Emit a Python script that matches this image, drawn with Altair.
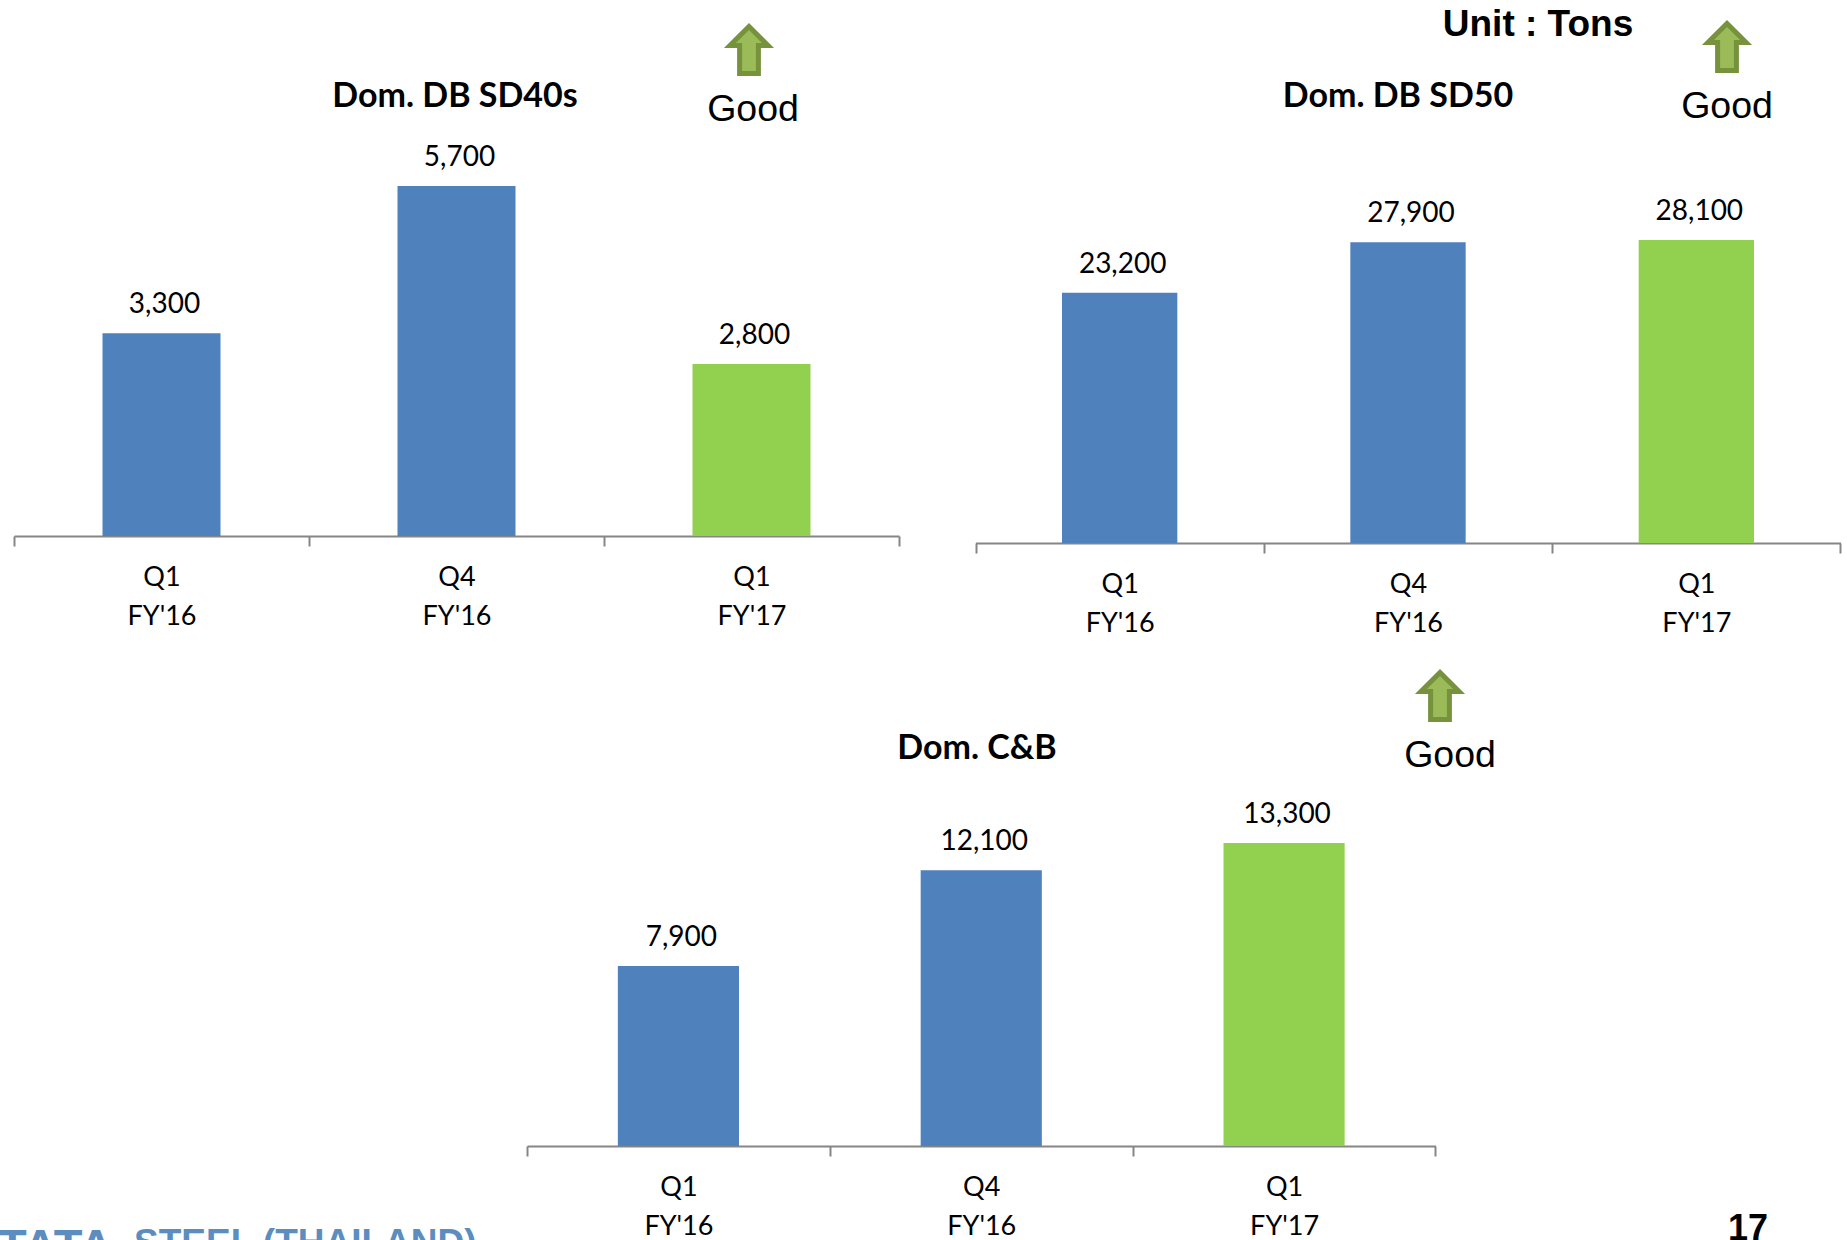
import altair as alt
import pandas as pd

QUARTERS = ["Q1|FY'16", "Q4|FY'16", "Q1|FY'17"]
BAR_COLORS = ["#4F81BD", "#4F81BD", "#92D050"]

SD40_VALUES = [3300, 5700, 2800]
SD50_VALUES = [23200, 27900, 28100]
CB_VALUES = [7900, 12100, 13300]

SANS = "Liberation Sans"
BODY = "Lato"

# Up arrow in symbol units, centred on the origin.
ARROW = "M0,-1 L0.81,-0.19 L0.4,-0.19 L0.4,1 L-0.4,1 L-0.4,-0.19 L-0.81,-0.19 Z"


def panel(values, x_range, y_range):
    table = pd.DataFrame({"quarter": QUARTERS, "tons": values, "color": BAR_COLORS})
    x = alt.X(
        "quarter:N",
        sort=QUARTERS,
        title=None,
        scale=alt.Scale(range=x_range, paddingInner=0, paddingOuter=0),
        axis=alt.Axis(
            orient="bottom",
            offset=y_range[0] - 1240,
            labelAngle=0,
            labelExpr="split(datum.label, '|')",
            labelFont=BODY,
            labelFontSize=27,
            labelColor="#000000",
            labelPadding=18,
            labelLineHeight=39,
            labelBaseline="top",
            domainColor="#868686",
            domainWidth=2,
            tickColor="#868686",
            tickWidth=2,
            tickSize=10,
            tickBand="extent",
            grid=False,
        ),
    )
    y = alt.Y(
        "tons:Q",
        axis=None,
        scale=alt.Scale(domain=[0, max(values)], range=y_range, nice=False),
    )
    bars = (
        alt.Chart(table)
        .mark_bar(width=alt.RelativeBandSize(band=0.4))
        .encode(x=x, y=y, color=alt.Color("color:N", scale=None))
    )
    labels = (
        alt.Chart(table)
        .mark_text(font=BODY, fontSize=28, color="#000000", dy=-20, dx=3, baseline="alphabetic")
        .encode(x=x, y=y, text=alt.Text("tons:Q", format=","))
    )
    return alt.layer(bars, labels)


def caption(text, cx, baseline_y, size, bold=False, font=SANS, color="#000000", align="center"):
    return (
        alt.Chart(pd.DataFrame({"t": [text]}))
        .mark_text(
            font=font,
            fontSize=size,
            fontWeight="bold" if bold else "normal",
            color=color,
            align=align,
            baseline="alphabetic",
        )
        .encode(x=alt.value(cx), y=alt.value(baseline_y), text="t:N")
    )


def arrow(cx, cy):
    return (
        alt.Chart(pd.DataFrame({"a": [1]}))
        .mark_point(
            shape=ARROW,
            filled=True,
            fill="#9BBB59",
            stroke="#76923C",
            strokeWidth=5,
            opacity=1,
            size=2209,
        )
        .encode(x=alt.value(cx), y=alt.value(cy))
    )


chart = (
    alt.layer(
        panel(SD40_VALUES, [14, 899], [536, 186]),
        panel(SD50_VALUES, [975.5, 1840.5], [543, 240]),
        panel(CB_VALUES, [527, 1435.5], [1146, 843]),
        caption("Dom. DB SD40s", 455, 107, 34, bold=True, font=BODY),
        caption("Dom. DB SD50", 1398, 107, 34, bold=True, font=BODY),
        caption("Dom. C&B", 977, 759, 34, bold=True, font=BODY),
        caption("Unit : Tons", 1538, 36, 37, bold=True),
        caption("Good", 753, 121, 37.5),
        caption("Good", 1727, 118, 37.5),
        caption("Good", 1450, 767, 37.5),
        caption("17", 1748, 1240, 36, bold=True),
        arrow(749, 50),
        arrow(1727, 47),
        arrow(1440, 696),
        caption("TATA", -2, 1262, 47, bold=True, color="#5B8DC0", align="left"),
        caption("STEEL (THAILAND)", 134, 1255, 37, bold=True, color="#5B8DC0", align="left"),
    )
    .resolve_scale(x="independent", y="independent", color="independent")
    .resolve_axis(x="independent", y="independent")
    .properties(
        width=1847,
        height=1240,
        padding=0,
        autosize=alt.AutoSizeParams(type="none"),
        background="#FFFFFF",
    )
    .configure_view(stroke=None)
)

chart.save("out.html", embed_options={"renderer": "svg", "actions": False})
